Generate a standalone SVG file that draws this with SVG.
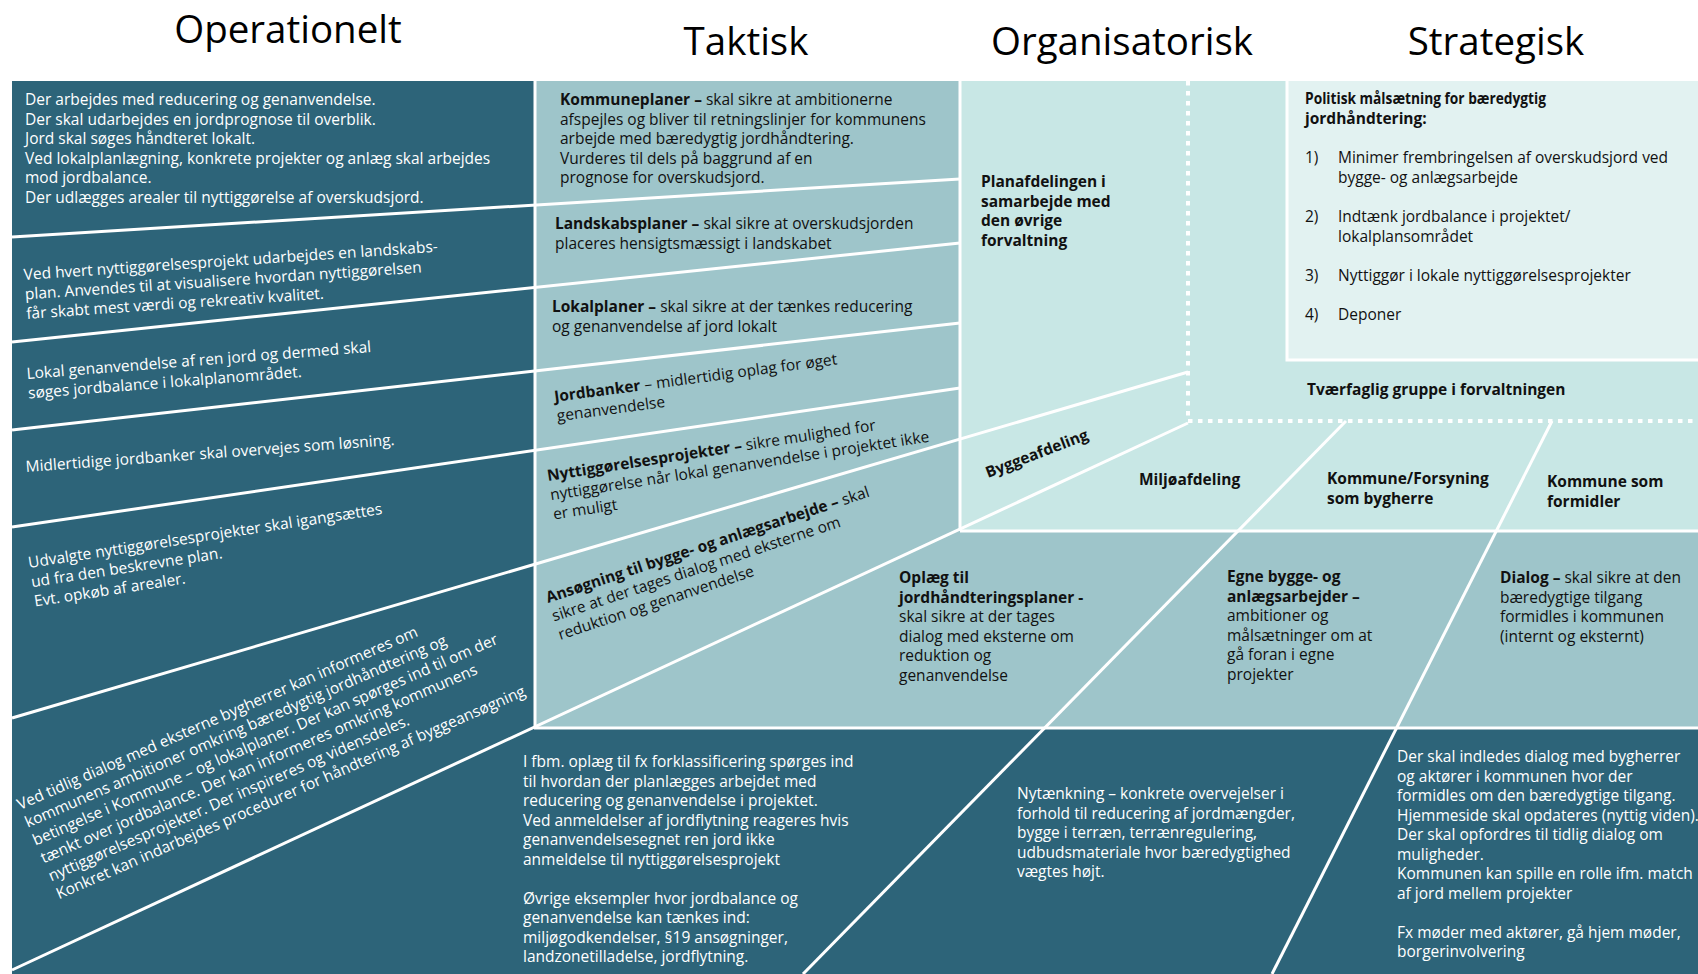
<svg xmlns="http://www.w3.org/2000/svg" width="1698" height="974" viewBox="0 0 1698 974">
<style>
text{font-family:"Open Sans","Noto Sans","DejaVu Sans",sans-serif;font-size:15.5px}
.h{font-size:38.5px;fill:#000;text-anchor:middle}
.w{fill:#fff}
.d{fill:#111}
.b{font-weight:700}
.ln{stroke:#fff;stroke-width:3;fill:none}
.dot{stroke:#fff;stroke-width:4;fill:none;stroke-dasharray:4.5 5.5}
</style>
<rect width="1698" height="974" fill="#fff"/>
<g id="background">
<rect x="12" y="81" width="1686" height="893" fill="#2d6479"/>
<polygon points="535,81 960,81 960,531 1698,531 1698,728 535,728" fill="#9ec5ca"/>
<rect x="960" y="81" width="738" height="450" fill="#c8e7e5"/>
<rect x="1287" y="81" width="411" height="279" fill="#e2f2f1"/>
</g>
<g id="headers">
<text class="h" x="288" y="43">Operationelt</text>
<text class="h" x="746" y="55">Taktisk</text>
<text class="h" x="1122" y="55">Organisatorisk</text>
<text class="h" x="1496" y="55">Strategisk</text>
</g>
<g id="connectors">
<line class="ln" x1="535" y1="81" x2="535" y2="728"/>
<line class="ln" x1="960" y1="81" x2="960" y2="531"/>
<line class="ln" x1="12" y1="237" x2="960" y2="179"/>
<line class="ln" x1="12" y1="342" x2="960" y2="243"/>
<line class="ln" x1="12" y1="430" x2="960" y2="323"/>
<line class="ln" x1="12" y1="527" x2="960" y2="388"/>
<line class="ln" x1="12" y1="718" x2="1188" y2="372"/>
<line class="ln" x1="12" y1="970" x2="1188" y2="423"/>
<line class="ln" x1="960" y1="531" x2="1698" y2="531"/>
<line class="ln" x1="534" y1="728" x2="1698" y2="728"/>
<line class="ln" x1="1346" y1="421" x2="803" y2="974"/>
<line class="ln" x1="1552" y1="421" x2="1272" y2="974"/>
<polyline class="ln" points="1287,81 1287,360 1698,360"/>
<polyline class="dot" points="1188,81 1188,421 1698,421"/>
</g>
<g id="op1"><text class="w" x="25" y="105"><tspan x="25">Der arbejdes med reducering og genanvendelse.</tspan><tspan x="25" dy="19.5">Der skal udarbejdes en jordprognose til overblik.</tspan><tspan x="25" dy="19.5">Jord skal søges håndteret lokalt.</tspan><tspan x="25" dy="19.5">Ved lokalplanlægning, konkrete projekter og anlæg skal arbejdes</tspan><tspan x="25" dy="19.5">mod jordbalance.</tspan><tspan x="25" dy="19.5">Der udlægges arealer til nyttiggørelse af overskudsjord.</tspan></text></g>
<g id="op2"><text class="w" transform="translate(24,280) rotate(-3.9)"><tspan x="0" y="0">Ved hvert nyttiggørelsesprojekt udarbejdes en landskabs-</tspan><tspan x="0" dy="19.5">plan. Anvendes til at visualisere hvordan nyttiggørelsen</tspan><tspan x="0" dy="19.5">får skabt mest værdi og rekreativ kvalitet.</tspan></text></g>
<g id="op3"><text class="w" transform="translate(27,379) rotate(-4.5)"><tspan x="0" y="0">Lokal genanvendelse af ren jord og dermed skal</tspan><tspan x="0" dy="19.5">søges jordbalance i lokalplanområdet.</tspan></text></g>
<g id="op4"><text class="w" transform="translate(26,472) rotate(-4.2)"><tspan x="0" y="0">Midlertidige jordbanker skal overvejes som løsning.</tspan></text></g>
<g id="op5"><text class="w" transform="translate(29,568) rotate(-8.7)"><tspan x="0" y="0">Udvalgte nyttiggørelsesprojekter skal igangsættes</tspan><tspan x="0" dy="19.5">ud fra den beskrevne plan.</tspan><tspan x="0" dy="19.5">Evt. opkøb af arealer.</tspan></text></g>
<g id="op6"><text class="w" transform="translate(20,810) rotate(-23.6)"><tspan x="0" y="0">Ved tidlig dialog med eksterne bygherrer kan informeres om</tspan><tspan x="0" dy="19.5">kommunens ambitioner omkring bæredygtig jordhåndtering og</tspan><tspan x="0" dy="19.5">betingelse i Kommune – og lokalplaner. Der kan spørges ind til om der</tspan><tspan x="0" dy="19.5">tænkt over jordbalance. Der kan informeres omkring kommunens</tspan><tspan x="0" dy="19.5">nyttiggørelsesprojekter. Der inspireres og vidensdeles.</tspan><tspan x="0" dy="19.5">Konkret kan indarbejdes procedurer for håndtering af byggeansøgning</tspan></text></g>
<g id="tak1"><text class="d" x="560" y="105"><tspan class="b">Kommuneplaner –</tspan> skal sikre at ambitionerne<tspan x="560" dy="19.5">afspejles og bliver til retningslinjer for kommunens</tspan><tspan x="560" dy="19.5">arbejde med bæredygtig jordhåndtering.</tspan><tspan x="560" dy="19.5">Vurderes til dels på baggrund af en</tspan><tspan x="560" dy="19.5">prognose for overskudsjord.</tspan></text></g>
<g id="tak2"><text class="d" x="555" y="229"><tspan class="b">Landskabsplaner –</tspan> skal sikre at overskudsjorden<tspan x="555" dy="19.5">placeres hensigtsmæssigt i landskabet</tspan></text></g>
<g id="tak3"><text class="d" x="552" y="312"><tspan class="b">Lokalplaner –</tspan> skal sikre at der tænkes reducering<tspan x="552" dy="19.5">og genanvendelse af jord lokalt</tspan></text></g>
<g id="tak4"><text class="d" transform="translate(555,402) rotate(-7.6)"><tspan x="0" y="0" class="b">Jordbanker</tspan> – midlertidig oplag for øget<tspan x="0" dy="19.5">genanvendelse</tspan></text></g>
<g id="tak5"><text class="d" transform="translate(548,481) rotate(-8.8)"><tspan x="0" y="0" class="b">Nyttiggørelsesprojekter –</tspan> sikre mulighed for<tspan x="0" dy="19.5">nyttiggørelse når lokal genanvendelse i projektet ikke</tspan><tspan x="0" dy="19.5">er muligt</tspan></text></g>
<g id="tak6"><text class="d" transform="translate(548,603) rotate(-18.3)"><tspan x="0" y="0" class="b">Ansøgning til bygge- og anlægsarbejde –</tspan> skal<tspan x="0" dy="19.5">sikre at der tages dialog med eksterne om</tspan><tspan x="0" dy="19.5">reduktion og genanvendelse</tspan></text></g>
<g id="org-plan"><text class="d b" x="981" y="187"><tspan x="981">Planafdelingen i</tspan><tspan x="981" dy="19.5">samarbejde med</tspan><tspan x="981" dy="19.5">den øvrige</tspan><tspan x="981" dy="19.5">forvaltning</tspan></text></g>
<g id="org-bygge"><text class="d b" transform="translate(988,478) rotate(-21)">Byggeafdeling</text></g>
<g id="org-miljo"><text class="d b" x="1139" y="485">Miljøafdeling</text></g>
<g id="org-tvaer"><text class="d b" x="1307" y="395">Tværfaglig gruppe i forvaltningen</text></g>
<g id="org-bygherre"><text class="d b" x="1327" y="484"><tspan x="1327">Kommune/Forsyning</tspan><tspan x="1327" dy="19.5">som bygherre</tspan></text></g>
<g id="org-formidler"><text class="d b" x="1547" y="487"><tspan x="1547">Kommune som</tspan><tspan x="1547" dy="19.5">formidler</tspan></text></g>
<g id="strat"><text class="d b" x="1305" y="104" textLength="241" lengthAdjust="spacingAndGlyphs">Politisk målsætning for bæredygtig</text><text class="d b" x="1305" y="123.5">jordhåndtering:</text>
<text class="d" x="1305" y="163">1)</text><text class="d" x="1338" y="163"><tspan x="1338">Minimer frembringelsen af overskudsjord ved</tspan><tspan x="1338" dy="19.5">bygge- og anlægsarbejde</tspan></text>
<text class="d" x="1305" y="222">2)</text><text class="d" x="1338" y="222"><tspan x="1338">Indtænk jordbalance i projektet/</tspan><tspan x="1338" dy="19.5">lokalplansområdet</tspan></text>
<text class="d" x="1305" y="281">3)</text><text class="d" x="1338" y="281">Nyttiggør i lokale nyttiggørelsesprojekter</text>
<text class="d" x="1305" y="320">4)</text><text class="d" x="1338" y="320">Deponer</text></g>
<g id="mid-oplaeg"><text class="d" x="899" y="583"><tspan x="899" class="b">Oplæg til</tspan><tspan x="899" dy="19.5" class="b">jordhåndteringsplaner -</tspan><tspan x="899" dy="19.5">skal sikre at der tages</tspan><tspan x="899" dy="19.5">dialog med eksterne om</tspan><tspan x="899" dy="19.5">reduktion og</tspan><tspan x="899" dy="19.5">genanvendelse</tspan></text></g>
<g id="mid-egne"><text class="d" x="1227" y="582"><tspan x="1227" class="b">Egne bygge- og</tspan><tspan x="1227" dy="19.5" class="b">anlægsarbejder –</tspan><tspan x="1227" dy="19.5">ambitioner og</tspan><tspan x="1227" dy="19.5">målsætninger om at</tspan><tspan x="1227" dy="19.5">gå foran i egne</tspan><tspan x="1227" dy="19.5">projekter</tspan></text></g>
<g id="mid-dialog"><text class="d" x="1500" y="583"><tspan class="b">Dialog –</tspan> skal sikre at den<tspan x="1500" dy="19.5">bæredygtige tilgang</tspan><tspan x="1500" dy="19.5">formidles i kommunen</tspan><tspan x="1500" dy="19.5">(internt og eksternt)</tspan></text></g>
<g id="bot-left"><text class="w" x="523" y="767"><tspan x="523">I fbm. oplæg til fx forklassificering spørges ind</tspan><tspan x="523" dy="19.5">til hvordan der planlægges arbejdet med</tspan><tspan x="523" dy="19.5">reducering og genanvendelse i projektet.</tspan><tspan x="523" dy="19.5">Ved anmeldelser af jordflytning reageres hvis</tspan><tspan x="523" dy="19.5">genanvendelsesegnet ren jord ikke</tspan><tspan x="523" dy="19.5">anmeldelse til nyttiggørelsesprojekt</tspan><tspan x="523" dy="39">Øvrige eksempler hvor jordbalance og</tspan><tspan x="523" dy="19.5">genanvendelse kan tænkes ind:</tspan><tspan x="523" dy="19.5">miljøgodkendelser, §19 ansøgninger,</tspan><tspan x="523" dy="19.5">landzonetilladelse, jordflytning.</tspan></text></g>
<g id="bot-mid"><text class="w" x="1017" y="799"><tspan x="1017">Nytænkning – konkrete overvejelser i</tspan><tspan x="1017" dy="19.5">forhold til reducering af jordmængder,</tspan><tspan x="1017" dy="19.5">bygge i terræn, terrænregulering,</tspan><tspan x="1017" dy="19.5">udbudsmateriale hvor bæredygtighed</tspan><tspan x="1017" dy="19.5">vægtes højt.</tspan></text></g>
<g id="bot-right"><text class="w" x="1397" y="762"><tspan x="1397">Der skal indledes dialog med bygherrer</tspan><tspan x="1397" dy="19.5">og aktører i kommunen hvor der</tspan><tspan x="1397" dy="19.5">formidles om den bæredygtige tilgang.</tspan><tspan x="1397" dy="19.5">Hjemmeside skal opdateres (nyttig viden).</tspan><tspan x="1397" dy="19.5">Der skal opfordres til tidlig dialog om</tspan><tspan x="1397" dy="19.5">muligheder.</tspan><tspan x="1397" dy="19.5">Kommunen kan spille en rolle ifm. match</tspan><tspan x="1397" dy="19.5">af jord mellem projekter</tspan><tspan x="1397" dy="39">Fx møder med aktører, gå hjem møder,</tspan><tspan x="1397" dy="19.5">borgerinvolvering</tspan></text></g>
</svg>
